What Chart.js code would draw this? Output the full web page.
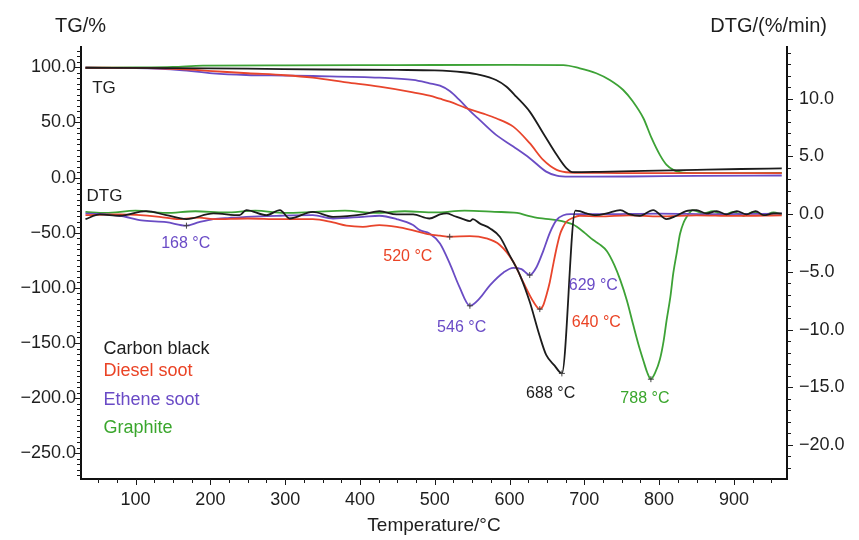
<!DOCTYPE html>
<html>
<head>
<meta charset="utf-8">
<script src="https://cdn.jsdelivr.net/npm/chart.js@4/dist/chart.umd.min.js"></script>
<style>html,body{margin:0;padding:0;background:#fff}canvas{display:block}</style>
</head>
<body>
<canvas id="c" width="859" height="540"></canvas>
<script>
// ---------- DATA ----------
const seriesNames = ['Carbon black', 'Diesel soot', 'Ethene soot', 'Graphite'];

// TG curves (left axis, %)
const cbTgT = [33, 150, 250, 350, 450, 500, 538, 560, 582, 596, 609, 627, 645, 663, 676, 684, 720, 780, 850, 910, 964];
const cbTg  = [99.6, 99.3, 98.8, 98.0, 97.6, 97.2, 95.5, 93.2, 88.5, 82.4, 73.4, 59.8, 40.2, 20.6, 8.5, 4.9, 5.2, 6.0, 7.0, 7.8, 8.3];

const dsTgT = [33, 100, 159, 203, 250, 300, 337, 382, 426, 471, 493, 507, 520, 542, 565, 582, 605, 627, 645, 663, 681, 720, 800, 964];
const dsTg  = [99.6, 99.4, 98.3, 96.5, 94.6, 92.8, 90.6, 86.4, 82.4, 77.3, 74.3, 71.5, 68.8, 63.0, 58.0, 53.8, 46.2, 31.2, 16.0, 7.0, 4.6, 4.2, 4.0, 4.0];

const esTgT = [33, 100, 159, 203, 248, 300, 337, 426, 471, 493, 507, 520, 533, 547, 560, 582, 605, 627, 649, 663, 680, 760, 850, 964];
const esTg  = [99.6, 99.2, 97.5, 94.5, 93.0, 92.5, 92.1, 90.6, 88.5, 85.5, 83.3, 78.5, 70.4, 60.4, 52.3, 38.7, 28.1, 17.6, 5.4, 1.8, 0.9, 1.0, 1.6, 1.9];

const grTgT = [33, 100, 150, 190, 300, 450, 600, 672, 694, 716, 734, 752, 765, 779, 790, 801, 810, 819, 828, 850, 964];
const grTg  = [99.6, 99.8, 100.3, 101.5, 101.8, 102.0, 102.2, 102.0, 99.1, 94.6, 88.5, 79.4, 68.9, 53.8, 35.7, 20.6, 11.5, 7.0, 4.9, 4.0, 4.2];

// DTG curves (right axis, %/min)
const cbDtgT = [33, 52, 79, 114, 141, 168, 204, 239, 248, 275, 293, 306, 337, 364, 404, 426, 449, 471, 493, 507, 516, 525, 538, 547, 551, 560, 574, 587, 600, 614, 627, 640, 649, 660, 670, 688, 694, 703, 716, 730, 748, 761, 774, 792, 810, 823, 836, 850, 863, 877, 890, 904, 917, 929, 940, 953, 964];
const cbDtg  = [-0.43, -0.03, -0.14, 0.26, -0.09, -0.43, 0.06, -0.09, 0.35, -0.09, 0.35, -0.38, 0.2, -0.23, -0.03, 0.26, -0.03, -0.03, -0.38, -0.03, 0.06, -0.14, -0.43, -0.6, -0.43, -0.8, -1.24, -1.96, -3.55, -5.3, -7.6, -10.5, -12.2, -13.1, -13.8, 0.3, 0.26, 0.06, -0.09, 0.06, 0.35, -0.03, -0.14, 0.35, -0.43, -0.14, 0.26, 0.35, 0.06, 0.26, -0.03, 0.26, -0.03, 0.26, -0.09, 0.06, 0.06];

const dsDtgT = [33, 79, 132, 158, 185, 204, 250, 293, 337, 364, 382, 404, 426, 449, 471, 493, 507, 520, 547, 569, 587, 605, 618, 632, 640.5, 645, 649.4, 653.8, 658.3, 662.7, 667.2, 671.7, 676, 685, 694, 720, 760, 800, 850, 900, 964];
const dsDtg  = [-0.09, -0.03, -0.23, -0.43, -0.3, -0.43, -0.38, -0.43, -0.43, -0.72, -1.0, -1.1, -0.95, -1.1, -1.4, -1.76, -1.87, -1.96, -1.9, -2.1, -2.68, -4.13, -5.86, -7.6, -8.23, -7.9, -7.0, -5.9, -4.4, -3.0, -1.8, -1.1, -0.66, -0.31, -0.14, -0.2, -0.1, -0.2, -0.1, -0.15, -0.1];

const esDtgT = [33, 79, 108, 141, 168, 185, 204, 226, 248, 293, 337, 364, 404, 426, 449, 471, 480, 493, 507, 520, 533, 547, 560, 574, 592, 605, 616, 627, 636, 645, 654, 663, 672, 681, 720, 800, 880, 964];
const esDtg  = [0.06, -0.14, -0.55, -0.7, -1.0, -0.7, -0.43, -0.32, -0.23, -0.14, -0.09, -0.38, -0.23, -0.14, -0.43, -0.95, -1.39, -1.67, -2.54, -4.27, -6.3, -7.94, -7.3, -6.15, -5.05, -4.65, -4.77, -5.28, -4.6, -3.2, -1.6, -0.5, -0.1, 0, 0, 0.05, 0, 0.05];

const grDtgT = [33, 60, 100, 140, 180, 220, 260, 300, 340, 380, 420, 460, 500, 540, 580, 610, 625, 640, 655, 665, 675, 685, 690, 700, 712, 720, 730, 740, 748, 757, 765, 772, 779, 784, 789, 795, 801, 806, 810, 815, 819, 824, 828, 833, 837, 845, 859, 872, 886, 899, 913, 926, 940, 953, 964];
const grDtg  = [0.2, 0.1, 0.3, 0.1, 0.25, 0.15, 0.3, 0.1, 0.2, 0.3, 0.1, 0.25, 0.15, 0.3, 0.2, 0.1, -0.15, -0.35, -0.45, -0.55, -0.7, -0.9, -1.1, -1.6, -2.25, -2.6, -3.2, -4.4, -5.7, -7.5, -9.5, -11.2, -12.7, -13.7, -14.3, -13.7, -12.6, -11.0, -9.2, -7.2, -5.1, -3.2, -1.7, -0.7, -0.23, 0.35, 0.06, 0.26, -0.09, 0.2, -0.14, 0.2, -0.09, 0.15, -0.03];

// Peak markers (on DTG curves) and their labels
const peakT = [168, 520, 547, 627, 640.5, 670, 789];
const peakV = [-1.0, -1.96, -7.94, -5.28, -8.23, -13.8, -14.3];
const peakLabels = ['168 °C', '520 °C', '546 °C', '629 °C', '640 °C', '688 °C', '788 °C'];
const peakSeries = [2, 1, 2, 2, 1, 0, 3];

// Tick labels
const xTicks = [100, 200, 300, 400, 500, 600, 700, 800, 900];
const tgTicks = [-250, -200, -150, -100, -50, 0, 50, 100];
const dtgTicks = [-20, -15, -10, -5, 0, 5, 10];

// Texts
const xTitle = 'Temperature/°C';
const tgTitle = 'TG/%';
const dtgTitle = 'DTG/(%/min)';
const tgTag = 'TG';
const dtgTag = 'DTG';

// ---------- STYLE / LAYOUT ----------
const FONT = "'Liberation Sans', Arial, Helvetica, sans-serif";
const seriesColors = ['#1c1c1c', '#e8452c', '#6a4cc4', '#3da236'];
const textColors = ['#1c1c1c', '#ea4325', '#6a4bc6', '#3aa62c'];
// label anchors: [temperature centre, DTG baseline]
const peakLabelPos = [[167, -2.97], [464, -4.07], [536, -10.25], [712, -6.59], [716, -9.76], [655, -15.97], [781, -16.35]];
const legendAnchorT = 57;
const legendBaselines = [-159.7, -180.3, -205.9, -231.5]; // on TG axis
Chart.defaults.font.family = FONT;
Chart.defaults.color = '#222';

function pts(T, V) { return T.map((t, i) => ({ x: t, y: V[i] })); }
function fmt(v) { const s = Math.abs(v).toFixed(1); return v < 0 ? '\u2212' + s : s; }

const tgSets = [[cbTgT, cbTg], [dsTgT, dsTg], [esTgT, esTg], [grTgT, grTg]];
const dtgSets = [[cbDtgT, cbDtg], [dsDtgT, dsDtg], [esDtgT, esDtg], [grDtgT, grDtg]];

const datasets = [];
dtgSets.forEach((s, i) => datasets.push({
  label: seriesNames[i] + ' DTG', data: pts(s[0], s[1]), yAxisID: 'yDTG',
  borderColor: seriesColors[i], borderWidth: 1.8, pointRadius: 0, cubicInterpolationMode: 'monotone', fill: false
}));
tgSets.forEach((s, i) => datasets.push({
  label: seriesNames[i] + ' TG', data: pts(s[0], s[1]), yAxisID: 'yTG',
  borderColor: seriesColors[i], borderWidth: 1.8, pointRadius: 0, cubicInterpolationMode: 'monotone', fill: false
}));
datasets.unshift({
  label: 'peaks', type: 'scatter', data: pts(peakT, peakV), yAxisID: 'yDTG',
  pointStyle: 'cross', pointRadius: 3, borderColor: '#444', borderWidth: 1, showLine: false
});

const decor = {
  id: 'decor',
  afterDraw(chart) {
    const { ctx, chartArea: a, scales } = chart;
    const x = scales.x, yl = scales.yTG, yr = scales.yDTG;
    ctx.save();
    ctx.strokeStyle = '#1a1a1a';
    ctx.lineWidth = 1;
    const mark = (x1, y1, x2, y2) => { ctx.beginPath(); ctx.moveTo(x1, y1); ctx.lineTo(x2, y2); ctx.stroke(); };
    for (let i = Math.ceil(x.min / 25); i * 25 <= x.max; i++) {
      const v = i * 25, px = Math.round(x.getPixelForValue(v)) + 0.5;
      mark(px, a.bottom, px, a.bottom + (v % 100 === 0 ? 6 : 4));
    }
    for (let i = Math.ceil(yl.min / 5); i * 5 <= yl.max; i++) {
      const v = i * 5, py = Math.round(yl.getPixelForValue(v)) + 0.5;
      mark(a.left - (v % 50 === 0 ? 6 : 4), py, a.left, py);
    }
    for (let i = Math.ceil(yr.min); i <= yr.max; i++) {
      const py = Math.round(yr.getPixelForValue(i)) + 0.5;
      mark(a.right, py, a.right + (i % 5 === 0 ? 6 : 4), py);
    }
    ctx.textBaseline = 'alphabetic';
    ctx.fillStyle = '#1e1e1e';
    ctx.font = '20px ' + FONT;
    ctx.textAlign = 'left';
    ctx.fillText(tgTitle, a.left - 26, a.top - 15);
    ctx.textAlign = 'right';
    ctx.fillText(dtgTitle, a.right + 40, a.top - 15);
    ctx.font = '17px ' + FONT;
    ctx.textAlign = 'left';
    ctx.fillText(tgTag, x.getPixelForValue(42), yl.getPixelForValue(76.4));
    ctx.fillText(dtgTag, x.getPixelForValue(34.4), yl.getPixelForValue(-20.8));
    ctx.font = '18px ' + FONT;
    seriesNames.forEach((n, i) => {
      ctx.fillStyle = textColors[i];
      ctx.fillText(n, x.getPixelForValue(legendAnchorT), yl.getPixelForValue(legendBaselines[i]));
    });
    ctx.font = '16px ' + FONT;
    ctx.textAlign = 'center';
    peakLabels.forEach((t, i) => {
      ctx.fillStyle = textColors[peakSeries[i]];
      ctx.fillText(t, x.getPixelForValue(peakLabelPos[i][0]), yr.getPixelForValue(peakLabelPos[i][1]));
    });
    ctx.restore();
  }
};

const axisBase = {
  grid: { display: true, drawOnChartArea: false, drawTicks: false },
  border: { display: true, color: '#111', width: 2 }
};

new Chart(document.getElementById('c'), {
  type: 'line',
  data: { datasets },
  options: {
    responsive: false,
    animation: false,
    devicePixelRatio: 1,
    layout: { padding: { top: 47, left: 0, right: 0, bottom: 0 } },
    plugins: { legend: { display: false }, tooltip: { enabled: false } },
    scales: {
      x: {
        ...axisBase, type: 'linear', position: 'bottom', min: 27, max: 971,
        afterBuildTicks: s => { s.ticks = xTicks.map(v => ({ value: v })); },
        afterFit: s => { s.height = 61; },
        ticks: { autoSkip: false, maxRotation: 0, padding: 10, color: '#1e1e1e', font: { size: 18 }, callback: v => String(v) },
        title: { display: true, text: xTitle, color: '#1e1e1e', font: { size: 19 }, padding: { top: 0, bottom: 3 } }
      },
      yTG: {
        ...axisBase, type: 'linear', position: 'left', min: -273.3, max: 118.4,
        afterBuildTicks: s => { s.ticks = tgTicks.map(v => ({ value: v })); },
        afterFit: s => { s.width = 81; },
        ticks: { autoSkip: false, padding: 5, color: '#1e1e1e', font: { size: 18 }, callback: v => fmt(v) }
      },
      yDTG: {
        ...axisBase, type: 'linear', position: 'right', min: -22.95, max: 14.48,
        afterBuildTicks: s => { s.ticks = dtgTicks.map(v => ({ value: v })); },
        afterFit: s => { s.width = 72; },
        ticks: { autoSkip: false, padding: 12, color: '#1e1e1e', font: { size: 18 }, callback: v => fmt(v) }
      }
    }
  },
  plugins: [decor]
});
</script>
</body>
</html>
